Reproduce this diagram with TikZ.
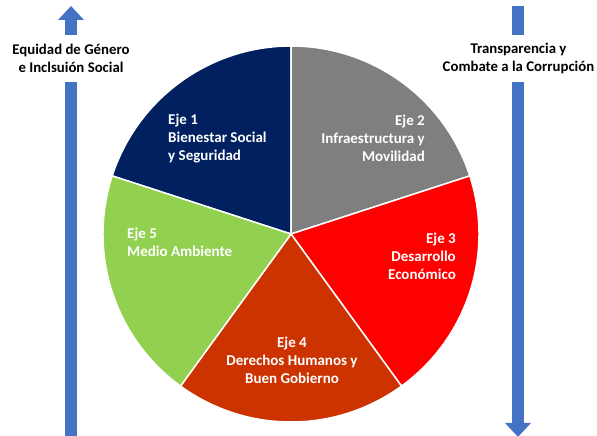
\documentclass[tikz,border=0pt]{standalone}
\usepackage{fontspec}
\setmainfont{Carlito}
\usetikzlibrary{arrows.meta,positioning}
\definecolor{ejeuno}{HTML}{002060}
\definecolor{ejedos}{HTML}{7F7F7F}
\definecolor{ejetres}{HTML}{FF0000}
\definecolor{ejecuatro}{HTML}{CC3300}
\definecolor{ejecinco}{HTML}{92D050}
\definecolor{axisblue}{HTML}{4472C4}

\begin{document}
\begin{tikzpicture}[
    x=1pt, y=1pt,
    wedge/.style={draw=white, line width=1.5pt, line join=round},
    ejetext/.style={text=white, inner sep=0pt, font=\bfseries\fontsize{15}{18}\selectfont},
    sidetext/.style={text=black, fill=white, align=center, inner xsep=1pt, minimum height=47pt, font=\bfseries\fontsize{14.8}{18}\selectfont},
    bluearrow/.style={draw=axisblue, line width=12pt, -{Triangle[width=25pt,length=14pt]}},
]
\useasboundingbox (0,0) rectangle (597,436);

% Side arrows
\coordinate (lbot) at (71,-2);
\coordinate (ltop) at (71,430);
\coordinate (rtop) at (518,430);
\coordinate (rbot) at (518,-1);
\draw[bluearrow] (lbot) -- (ltop);
\draw[bluearrow] (rtop) -- (rbot);

\node[sidetext] (equidad) at (71,377.5) {Equidad de Género\\e Inclsuión Social};
\node[sidetext] (transp) at (518.5,377.5) {Transparencia y\\Combate a la Corrupción};

% Pie
\coordinate (c) at (291,202);
\filldraw[wedge, fill=ejeuno] (c) -- ++(90:188) arc[start angle=90, end angle=162, radius=188] -- cycle;
\filldraw[wedge, fill=ejedos] (c) -- ++(18:188) arc[start angle=18, end angle=90, radius=188] -- cycle;
\filldraw[wedge, fill=ejetres] (c) -- ++(-54:188) arc[start angle=-54, end angle=18, radius=188] -- cycle;
\filldraw[wedge, fill=ejecuatro] (c) -- ++(-126:188) arc[start angle=-126, end angle=-54, radius=188] -- cycle;
\filldraw[wedge, fill=ejecinco] (c) -- ++(162:188) arc[start angle=162, end angle=234, radius=188] -- cycle;

% Labels
\node[ejetext, anchor=west, align=left] (eje1) at (168,297) {Eje 1\\Bienestar Social\\y Seguridad};
\node[ejetext, anchor=east, align=right] (eje2) at (425,298) {Eje 2\\Infraestructura y\\Movilidad};
\node[ejetext, anchor=east, align=right] (eje3) at (456,180) {Eje 3\\Desarrollo\\Económico};
\node[ejetext, align=center] (eje4) at (292,76) {Eje 4\\Derechos Humanos y\\Buen Gobierno};
\node[ejetext, anchor=west, align=left] (eje5) at (127,194) {Eje 5\\Medio Ambiente};

\end{tikzpicture}
\end{document}
